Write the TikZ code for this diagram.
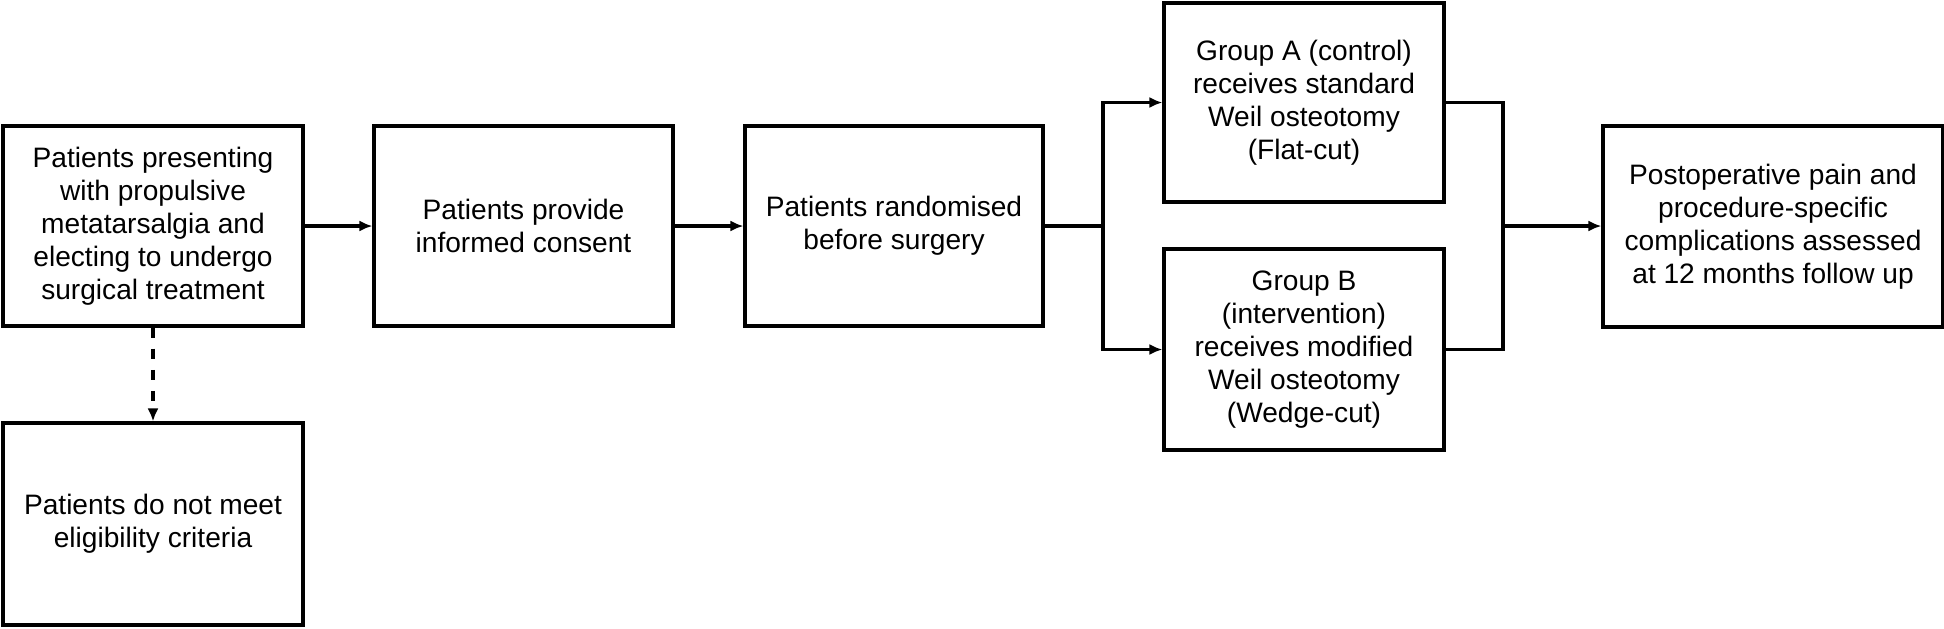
\documentclass[tikz,border=0pt]{standalone}
\usepackage{fontspec}
\setmainfont{Liberation Sans}
\usetikzlibrary{arrows.meta,positioning}
\tikzstyle{stage}=[draw,rectangle,line width=0.9pt,align=center,inner sep=2pt,minimum width=3cm,minimum height=2cm,font=\fontsize{8}{9.4}\selectfont]
\tikzstyle{arrow}=[-{Latex[length=1.3mm,width=1.1mm]}]

\begin{document}
\begin{tikzpicture}[line width=0.9pt]
\useasboundingbox (0,0) rectangle (19.44,-6.28);
\node [stage] (present) at (1.53,-2.26) {Patients presenting\\with propulsive\\metatarsalgia and\\electing to undergo\\surgical treatment};
\node [stage,minimum height=2.02cm] (exclude) at (1.53,-5.24) {Patients do not meet\\eligibility criteria};
\node [stage,minimum width=2.99cm] (consent) at (5.235,-2.26) {Patients provide\\informed consent};
\node [stage,minimum width=2.98cm] (random) at (8.94,-2.26) {Patients randomised\\before surgery};
\node [stage,minimum width=2.8cm,minimum height=1.99cm] (groupA) at (13.04,-1.025) {Group A (control)\\receives standard\\Weil osteotomy\\(Flat-cut)};
\node [stage,minimum width=2.8cm,minimum height=2.01cm] (groupB) at (13.04,-3.495) {Group B\\(intervention)\\receives modified\\Weil osteotomy\\(Wedge-cut)};
\node [stage,minimum width=3.4cm,minimum height=2.01cm] (outcome) at (17.73,-2.265) {Postoperative pain and\\procedure-specific\\complications assessed\\at 12 months follow up};
\coordinate (split) at (11.03,-2.26);
\coordinate (merge) at (15.03,-2.26);
\draw[arrow] (present) -- (consent);
\draw[arrow,dashed] (present) -- (exclude);
\draw[arrow] (consent) -- (random);
\draw (random.east |- split) -- (split);
\draw[arrow] (split) |- (groupA);
\draw[arrow] (split) |- (groupB);
\draw (groupA) -| (merge);
\draw (groupB) -| (merge);
\draw[arrow] (merge) -- (merge -| outcome.west);
\end{tikzpicture}
\end{document}
